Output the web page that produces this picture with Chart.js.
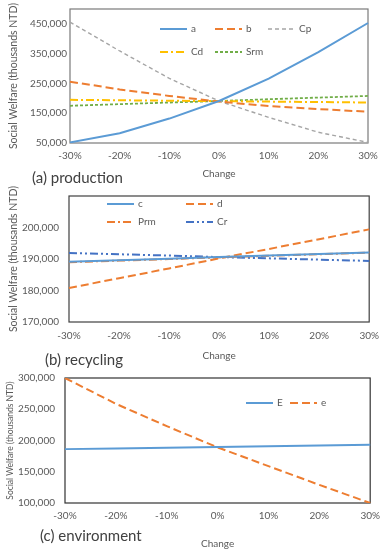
<!DOCTYPE html>
<html>
<head>
<meta charset="utf-8">
<script src="https://cdn.jsdelivr.net/npm/chart.js@4.4.1/dist/chart.umd.min.js"></script>
<style>
  body { margin: 0; background: #fff; width: 387px; height: 550px; position: relative; overflow: hidden; font-family: Lato, sans-serif; }
  canvas { position: absolute; left: 0; }
  .cap { position: absolute; font-size: 15px; color: #404040; line-height: 18px; white-space: nowrap; }
</style>
</head>
<body>
<canvas id="c1" width="387" height="180" style="top:0"></canvas>
<canvas id="c2" width="387" height="182" style="top:180px"></canvas>
<canvas id="c3" width="387" height="188" style="top:362px"></canvas>
<div class="cap" style="left:32px;top:168px">(a) production</div>
<div class="cap" style="left:45px;top:350px">(b) recycling</div>
<div class="cap" style="left:40px;top:526px">(c) environment</div>
<script>
const changeLabels = ["-30%", "-20%", "-10%", "0%", "10%", "20%", "30%"];

// (a) production
const aVals = [52000, 83000, 132000, 191000, 266000, 355000, 453000];
const bVals = [256000, 230000, 208000, 189000, 174000, 164000, 155000];
const cpVals = [456000, 359000, 267000, 191000, 136000, 86000, 52000];
const cdVals = [195000, 193500, 192000, 190500, 189000, 187500, 186000];
const srmVals = [175000, 180500, 186000, 191000, 197000, 202500, 208000];
const prodTicks = [50000, 150000, 250000, 350000, 450000];

// (b) recycling
const cVals = [189100, 189600, 190100, 190600, 191100, 191600, 192100];
const dVals = [180800, 183900, 187000, 190200, 193200, 196300, 199400];
const prmVals = [189000, 189500, 190000, 190500, 191000, 191500, 192000];
const crVals = [191900, 191500, 191100, 190600, 190200, 189800, 189400];
const recTicks = [170000, 180000, 190000, 200000];

// (c) environment
const bigEVals = [186200, 187300, 188500, 189600, 190800, 191900, 193100];
const smallEVals = [300000, 258700, 223000, 189000, 159000, 129000, 100000];
const envTicks = [100000, 150000, 200000, 250000, 300000];

const BLUE = "#5B9BD5", ORANGE = "#ED7D31", GRAY = "#A5A5A5", GOLD = "#FFC000", GREEN = "#70AD47", DBLUE = "#4472C4";
const TXT = "#595959";

// Rahmen um die Zeichenfläche
const boxBorder = {
  id: "boxBorder",
  beforeDatasetsDraw(chart, args, opts) {
    const { left, top, width, height } = chart.chartArea;
    const ctx = chart.ctx;
    ctx.save();
    ctx.strokeStyle = opts.color;
    ctx.lineWidth = 1.2;
    ctx.strokeRect(left, top, width, height);
    ctx.restore();
  }
};

// Legende innerhalb der Zeichenfläche
const insideLegend = {
  id: "insideLegend",
  afterDraw(chart, args, opts) {
    const ctx = chart.ctx;
    ctx.save();
    ctx.font = "10px Lato";
    ctx.textBaseline = "middle";
    ctx.fillStyle = TXT;
    opts.items.forEach((it, i) => {
      const ds = chart.data.datasets[i];
      ctx.strokeStyle = ds.borderColor;
      ctx.lineWidth = ds.borderWidth;
      ctx.setLineDash(ds.borderDash || []);
      ctx.beginPath();
      ctx.moveTo(it.x, it.y);
      ctx.lineTo(it.x + 27, it.y);
      ctx.stroke();
      ctx.fillText(ds.label, it.x + 31, it.y);
    });
    ctx.restore();
  }
};

function ds(label, data, color, width, dash) {
  return { label, data, borderColor: color, borderWidth: width, borderDash: dash, pointRadius: 0, fill: false, tension: 0 };
}

function makeChart(id, datasets, cfg) {
  return new Chart(document.getElementById(id), {
    type: "line",
    data: { labels: changeLabels, datasets },
    options: {
      responsive: false,
      animation: false,
      layout: { padding: { top: cfg.padTop, right: cfg.padRight, left: 0, bottom: 0 } },
      scales: {
        x: {
          offset: false,
          grid: { display: false, drawTicks: false },
          border: { display: false },
          ticks: { color: TXT, font: { family: "Lato", size: 10 }, padding: cfg.xPad, maxRotation: 0, autoSkip: false },
          title: { display: true, text: "Change", color: TXT, font: { family: "Lato", size: 10 }, padding: { top: cfg.xTitlePad, bottom: 0 } },
          afterFit: (s) => { s.height = cfg.xHeight; }
        },
        y: {
          min: cfg.min,
          max: cfg.max,
          grid: { display: false, drawTicks: false },
          border: { display: false },
          ticks: { color: TXT, font: { family: "Lato", size: 10 }, padding: cfg.yPad, callback: (v) => v.toLocaleString("en-US") },
          afterBuildTicks: (s) => { s.ticks = cfg.ticks.map((v) => ({ value: v })); },
          title: { display: true, text: "Social Welfare (thousands NTD)", color: TXT, font: { family: "Lato", size: cfg.yTitleSize }, padding: { top: cfg.yTitlePad, bottom: 0 } },
          afterFit: (s) => { s.width = cfg.yWidth; }
        }
      },
      plugins: {
        legend: { display: false },
        tooltip: { enabled: false },
        boxBorder: { color: cfg.border },
        insideLegend: { items: cfg.legend }
      }
    },
    plugins: [boxBorder, insideLegend]
  });
}

makeChart("c1", [
  ds("a", aVals, BLUE, 2, []),
  ds("b", bVals, ORANGE, 2, [8, 4]),
  ds("Cp", cpVals, GRAY, 1.4, [4, 3]),
  ds("Cd", cdVals, GOLD, 2, [8, 3, 2, 3]),
  ds("Srm", srmVals, GREEN, 1.8, [3, 2])
], {
  padTop: 8, padRight: 19, xHeight: 37, yWidth: 70, xPad: 7, yPad: 3, xTitlePad: 1, yTitlePad: 7, yTitleSize: 10.5,
  min: 50000, max: 500000, ticks: prodTicks, border: "#7a7a7a",
  legend: [{ x: 160, y: 29 }, { x: 215, y: 29 }, { x: 268, y: 29 }, { x: 160, y: 52 }, { x: 215, y: 52 }]
});

makeChart("c2", [
  ds("c", cVals, BLUE, 2, []),
  ds("d", dVals, ORANGE, 2, [8, 4]),
  ds("Prm", prmVals, ORANGE, 2, [8, 3, 2, 3]),
  ds("Cr", crVals, DBLUE, 2, [8, 3, 2, 3, 2, 3])
], {
  padTop: 13, padRight: 16, xHeight: 40, yWidth: 69, xPad: 8, yPad: 10, xTitlePad: 4, yTitlePad: 7, yTitleSize: 10.5,
  min: 170000, max: 210000, ticks: recTicks, border: "#404040",
  legend: [{ x: 107, y: 24 }, { x: 186, y: 24 }, { x: 107, y: 42 }, { x: 186, y: 42 }]
});

makeChart("c3", [
  ds("E", bigEVals, BLUE, 2, []),
  ds("e", smallEVals, ORANGE, 2, [8, 4])
], {
  padTop: 16, padRight: 15, xHeight: 47, yWidth: 65, xPad: 7, yPad: 10, xTitlePad: 11, yTitlePad: 5, yTitleSize: 8.5,
  min: 100000, max: 300000, ticks: envTicks, border: "#333333",
  legend: [{ x: 246, y: 41 }, { x: 290, y: 41 }]
});
</script>
</body>
</html>
